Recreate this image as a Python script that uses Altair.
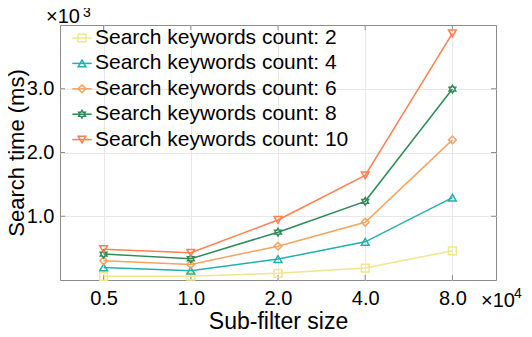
import altair as alt
import pandas as pd

# ---- data ----
sizes = ["0.5", "1.0", "2.0", "4.0", "8.0"]          # sub-filter size (x10^4)
series = [
    "Search keywords count: 2",
    "Search keywords count: 4",
    "Search keywords count: 6",
    "Search keywords count: 8",
    "Search keywords count: 10",
]
count2 = [57, 60, 105, 188, 458]
count4 = [198, 145, 328, 599, 1292]
count6 = [302, 245, 531, 906, 2198]
count8 = [406, 333, 750, 1234, 2995]
count10 = [484, 427, 942, 1641, 3870]
y_ticks = [1000, 2000, 3000]

colors = ["#F0E68C", "#20B2AA", "#F4A460", "#2E8B57", "#FF7F50"]
hexagram = ("M0,-1L0.289,-0.5L0.866,-0.5L0.577,0L0.866,0.5L0.289,0.5L0,1"
            "L-0.289,0.5L-0.866,0.5L-0.577,0L-0.866,-0.5L-0.289,-0.5Z")
shapes = ["square", "triangle-up", "diamond", hexagram, "triangle-down"]

rows = []
for name, vals in zip(series, [count2, count4, count6, count8, count10]):
    for i, v in enumerate(vals):
        rows.append({"series": name, "pos": i, "time": v})
df = pd.DataFrame(rows)

W, H = 436, 255
FONT = "Liberation Sans"
FRAME = "#8c8c8c"

label_expr = "[" + ",".join(f"'{s}'" for s in sizes) + "][datum.value]"

X = alt.X("pos:Q",
          scale=alt.Scale(domain=[-0.5, len(sizes) - 0.5], nice=False, zero=False),
          axis=alt.Axis(values=list(range(len(sizes))), labelExpr=label_expr,
                        title="Sub-filter size", domain=False, ticks=False,
                        grid=True, gridColor="#E8E8E8", labelFontSize=20,
                        labelPadding=8, labelColor="#000", labelFont=FONT,
                        titleFontSize=23, titleFont=FONT, titleFontWeight="normal",
                        titleColor="#000", titleBaseline="alphabetic",
                        titleY=48.5, titleX=W / 2))
Y = alt.Y("time:Q",
          scale=alt.Scale(domain=[0, 4000], nice=False),
          axis=alt.Axis(values=y_ticks, labelExpr="format(datum.value/1000,'.1f')",
                        title="Search time (ms)", domain=False, ticks=False,
                        grid=True, gridColor="#E8E8E8", labelFontSize=20,
                        labelPadding=6, labelColor="#000", labelFont=FONT,
                        titleFontSize=22, titleFont=FONT, titleFontWeight="normal",
                        titleColor="#000", titleBaseline="middle",
                        titleX=-44, titleY=H / 2, titleAngle=-90))

leg_common = dict(orient="none", title=None, labelFontSize=21, labelFont=FONT,
                  labelColor="#000", padding=0, rowPadding=3.4, offset=0,
                  labelLimit=0, legendX=11.5, legendY=2.5, labelOffset=2.5)

line_legend = alt.Legend(symbolType="stroke", symbolSize=380,
                         symbolStrokeWidth=1.5, **leg_common)
point_legend = alt.Legend(symbolSize=60, symbolStrokeWidth=1.5,
                          labelExpr="''", **leg_common)

base = alt.Chart(df)
lines = base.mark_line(strokeWidth=1.5).encode(
    x=X, y=Y,
    color=alt.Color("series:N", scale=alt.Scale(domain=series, range=colors),
                    legend=line_legend),
)
points = base.mark_point(filled=False, strokeWidth=1.5, size=60, opacity=1).encode(
    x=X, y=Y,
    color=alt.Color("series:N", scale=alt.Scale(domain=series, range=colors),
                    legend=point_legend),
    shape=alt.Shape("series:N", scale=alt.Scale(domain=series, range=shapes),
                    legend=point_legend),
)

# inward tick marks (MATLAB style box ticks)
ytick_df = pd.DataFrame({"time": y_ticks})
xtick_df = pd.DataFrame({"pos": list(range(len(sizes)))})
tick_l = alt.Chart(ytick_df).mark_rule(color=FRAME, strokeWidth=1).encode(
    y=Y, x=alt.value(0), x2=alt.value(5))
tick_r = alt.Chart(ytick_df).mark_rule(color=FRAME, strokeWidth=1).encode(
    y=Y, x=alt.value(W - 5), x2=alt.value(W))
tick_b = alt.Chart(xtick_df).mark_rule(color=FRAME, strokeWidth=1).encode(
    x=X, y=alt.value(H - 5), y2=alt.value(H))
tick_t = alt.Chart(xtick_df).mark_rule(color=FRAME, strokeWidth=1).encode(
    x=X, y=alt.value(0), y2=alt.value(5))

# exponent annotations
def txt(s, x, y, size):
    return alt.Chart(pd.DataFrame({"t": [s]})).mark_text(
        align="left", baseline="alphabetic", fontSize=size, font=FONT, color="#000"
    ).encode(text="t:N", x=alt.value(x), y=alt.value(y))

ann = [
    txt("×10", -14, -2, 20), txt("3", 23, -8, 14),
    txt("×10", 421, 282, 20), txt("4", 454, 273, 14),
]

chart = alt.layer(tick_l, tick_r, tick_b, tick_t, lines, points, *ann).resolve_scale(
    color="independent", shape="independent"
).properties(
    width=W, height=H,
    autosize=alt.AutoSizeParams(type="none"),
    padding={"left": 52, "top": 17, "right": 28, "bottom": 49},
).configure_view(stroke=FRAME, strokeWidth=1)

chart.save("out.html", embed_options={"renderer": "svg", "actions": False})
